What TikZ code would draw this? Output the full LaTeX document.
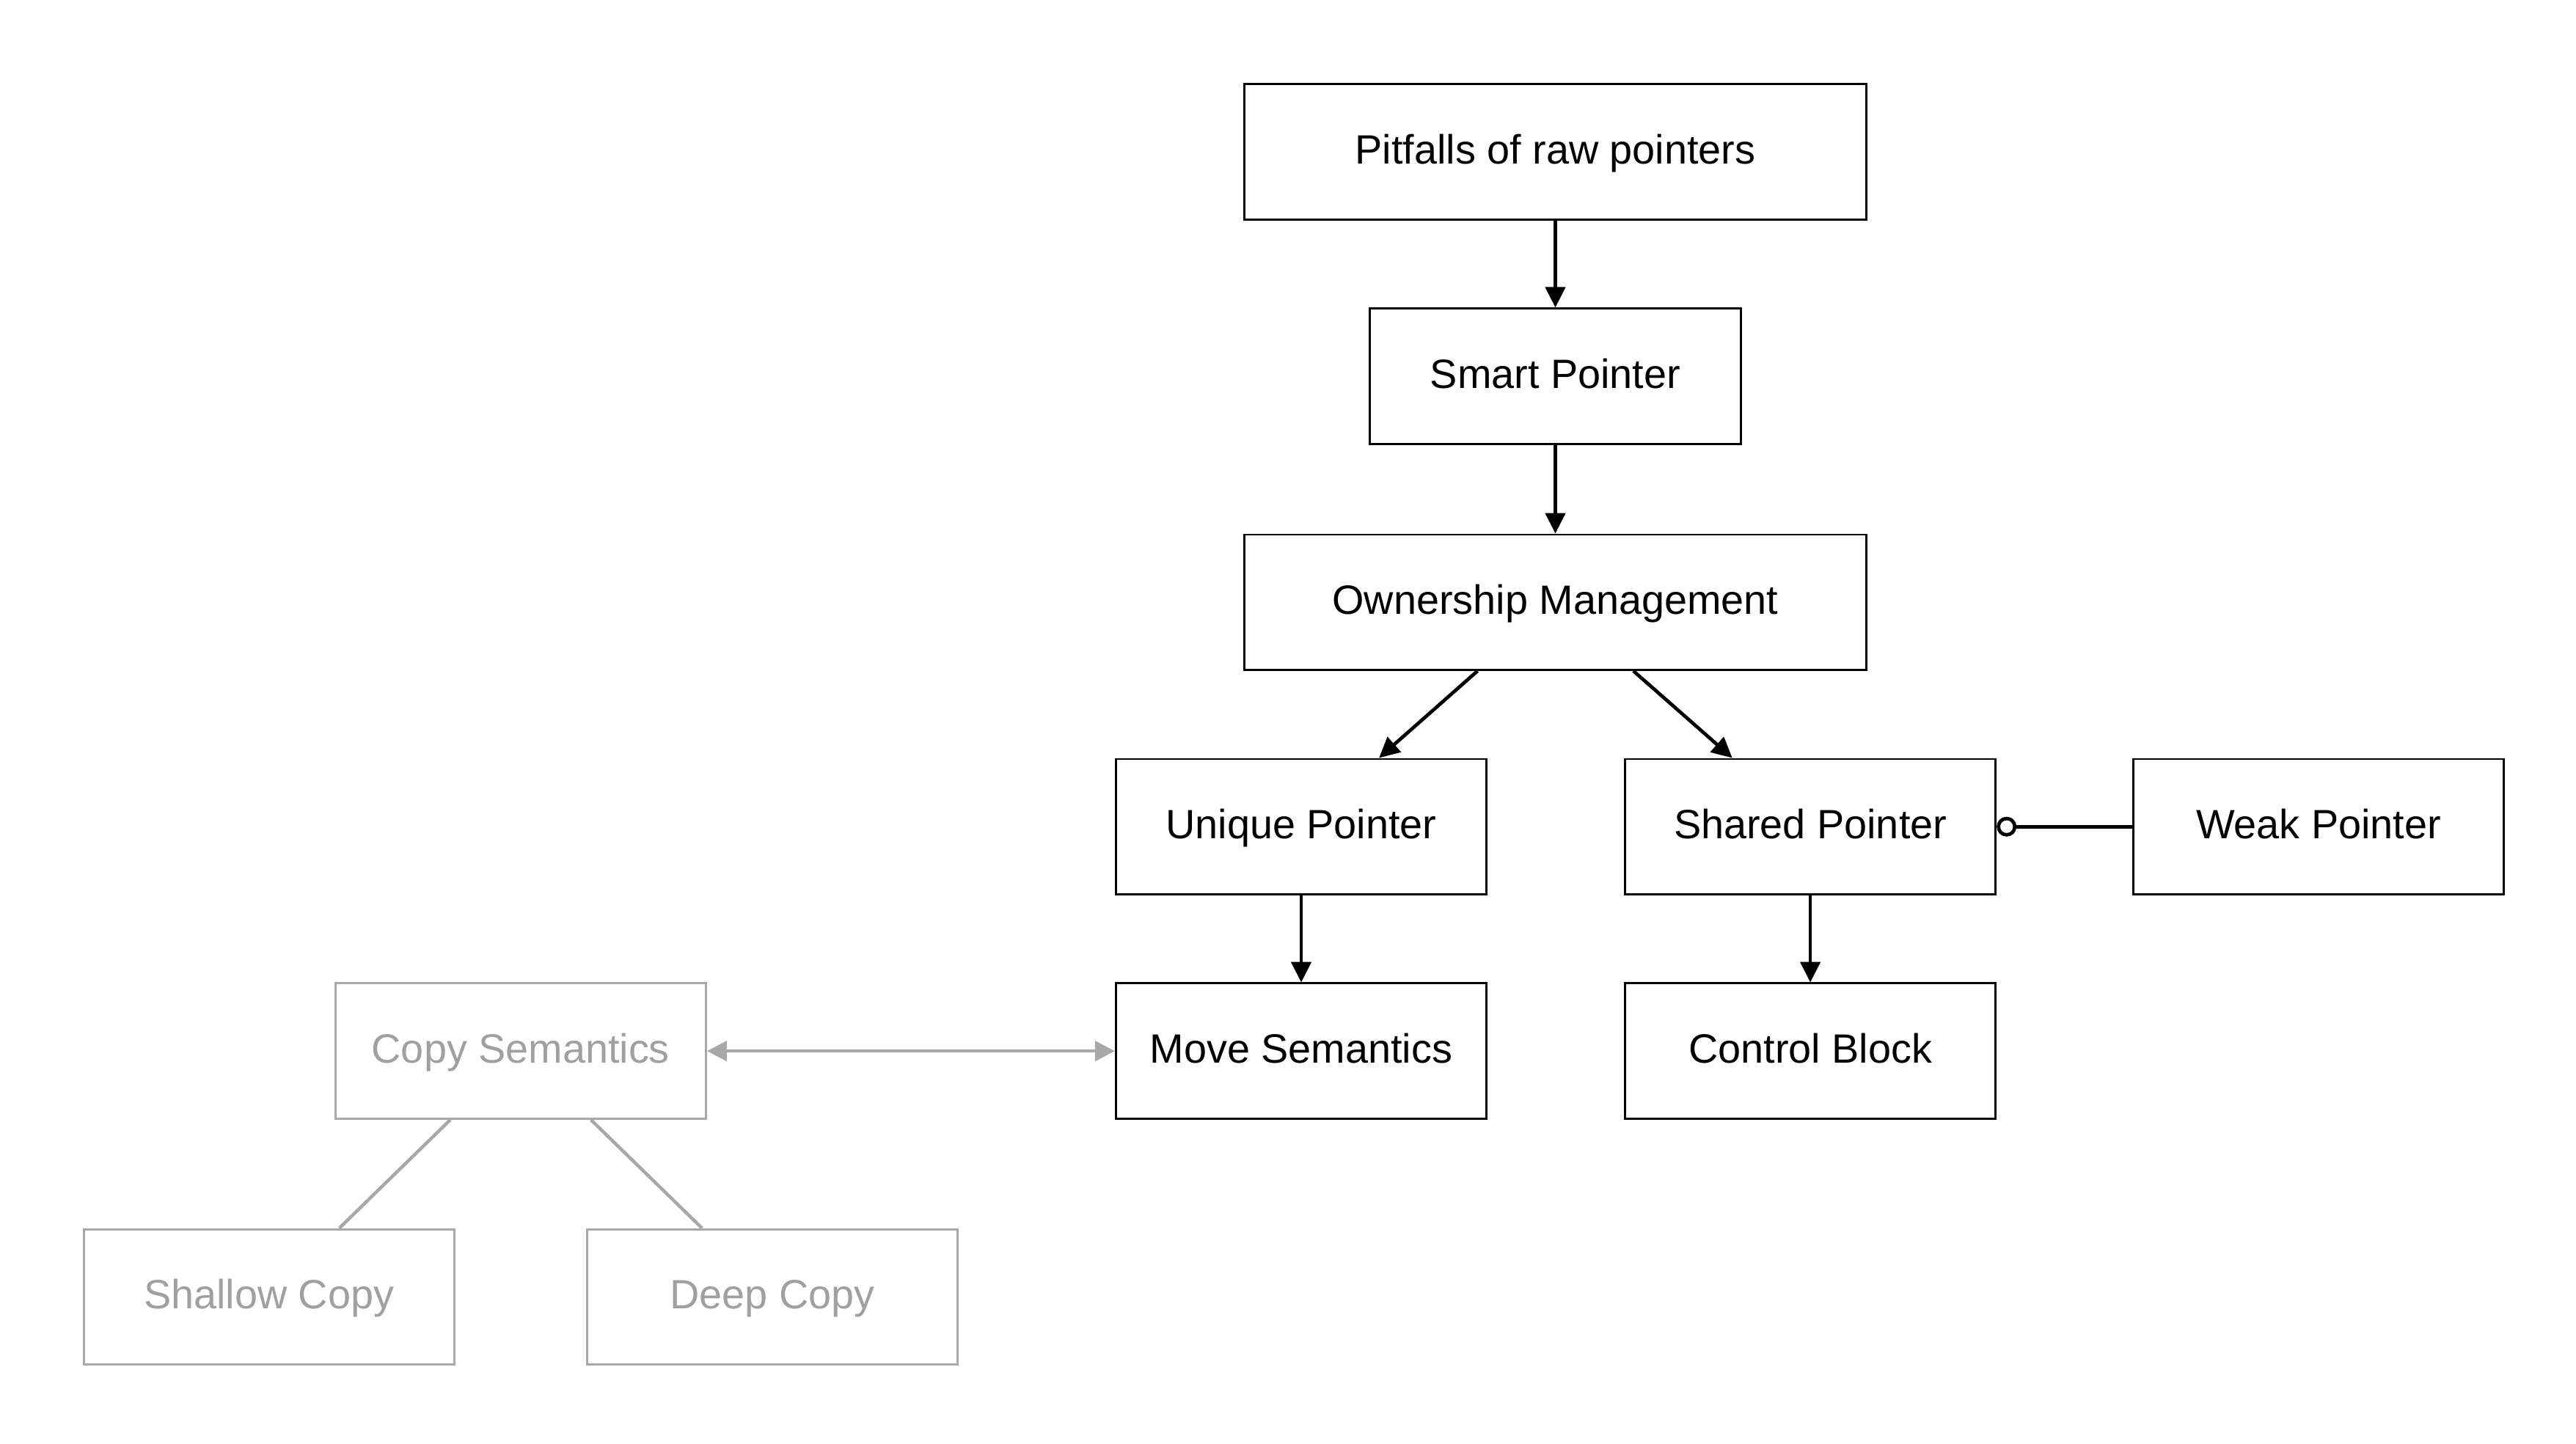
\documentclass[tikz,border=0pt]{standalone}
\usepackage{fontspec}
\setmainfont{Liberation Sans}
\usetikzlibrary{arrows.meta}

\begin{document}
\begin{tikzpicture}[x=0.5pt,y=0.5pt,yscale=-1,xscale=1,
                            box/.style={draw,line width=0.65pt,anchor=center,inner sep=0pt,minimum height=41pt,minimum width=112.3pt,text height=0.97em,text depth=0.25em,font=\fontsize{12.4}{14}\selectfont},
                            widebox/.style={box,minimum width=188.5pt},
                            greybox/.style={box,draw={rgb,255:red,168;green,168;blue,168},text={rgb,255:red,160;green,160;blue,160}},
                            link/.style={line width=1.05pt,-{Triangle[length=6.2pt,width=6pt]}},
                            greylink/.style={line width=1pt,color={rgb,255:red,168;green,168;blue,168}}]
                            \useasboundingbox (0,0) rectangle (1561,875);
                            \node [widebox] (pitfalls) at (942.5,92) {Pitfalls of raw pointers};
                            \node [box] (smart) at (942.5,228) {Smart Pointer};
                            \node [widebox] (owner) at (942.5,365) {Ownership Management};
                            \node [box] (unique) at (788.5,501) {Unique Pointer};
                            \node [box] (shared) at (1097,501) {Shared Pointer};
                            \node [box] (weak) at (1405,501) {Weak Pointer};
                            \node [box] (move) at (788.5,637) {Move Semantics};
                            \node [box] (control) at (1097,637) {Control Block};
                            \node [greybox] (copy) at (315.5,637) {Copy Semantics};
                            \node [greybox] (shallow) at (163,786) {Shallow Copy};
                            \node [greybox] (deep) at (468,786) {Deep Copy};
                            \draw [link] (pitfalls) -- (smart);
                            \draw [link] (smart) -- (owner);
                            \draw [link] (owner) -- (unique);
                            \draw [link] (owner) -- (shared);
                            \draw [link] (unique) -- (move);
                            \draw [link] (shared) -- (control);
                            \draw [line width=1.05pt,-{Circle[open,length=6pt,width=6pt]}] (weak) -- (shared);
                            \draw [greylink,{Triangle[length=6pt,width=6pt]}-{Triangle[length=6pt,width=6pt]}] (copy) -- (move);
                            \draw [greylink] (copy) -- (shallow);
                            \draw [greylink] (copy) -- (deep);
                            \end{tikzpicture}
\end{document}
